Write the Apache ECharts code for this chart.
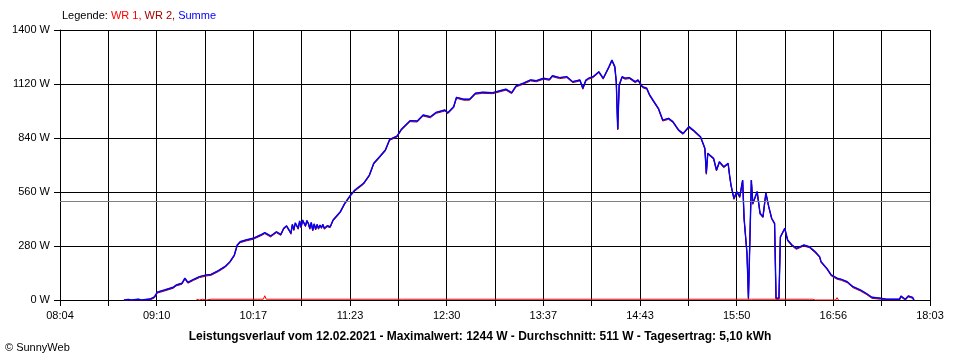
<!DOCTYPE html>
<html>
<head>
<meta charset="utf-8">
<script src="https://cdn.jsdelivr.net/npm/echarts@6/dist/echarts.min.js"></script>
<style>
html,body{margin:0;padding:0;background:#fff;}
#c{width:960px;height:360px;}
</style>
</head>
<body>
<div id="c"></div>
<script>
// ---- data ----
const timeLabels = ['08:04','09:10','10:17','11:23','12:30','13:37','14:43','15:50','16:56','18:03'];
const yTicks = [0, 280, 560, 840, 1120, 1400];
const averageW = 511;
const titleText = 'Leistungsverlauf vom 12.02.2021 - Maximalwert: 1244 W - Durchschnitt: 511 W - Tagesertrag: 5,10 kWh';

// Summe (W) – WR 2 delivers practically all of it
const sumData = [
  ['08:48',0],['08:51',3],['08:53',0],['08:58',4],['09:00',0],['09:06',5],['09:09',16],['09:11',41],
  ['09:16',52],['09:22',66],['09:24',78],['09:28',87],['09:30',113],['09:32',92],['09:36',107],
  ['09:40',121],['09:45',130],['09:48',133],['09:53',152],['09:58',176],['10:01',199],['10:04',233],
  ['10:06',285],['10:08',302],['10:12',311],['10:17',320],['10:22',337],['10:25',349],['10:29',332],
  ['10:33',354],['10:36',340],['10:38',372],['10:40',385],['10:41',389],['10:42',360],['10:43',346],
  ['10:44',392],['10:45',365],['10:46',400],['10:47',398],['10:48',372],['10:49',410],['10:50',378],
  ['10:51',415],['10:52',418],['10:53',385],['10:54',412],['10:55',398],['10:56',372],['10:57',402],
  ['10:58',363],['10:59',395],['11:00',368],['11:01',392],['11:02',372],['11:03',389],['11:04',376],
  ['11:05',392],['11:06',372],['11:08',385],['11:10',380],['11:12',415],['11:17',458],['11:20',501],
  ['11:24',544],['11:27',570],['11:33',605],['11:37',648],['11:40',709],['11:44',743],['11:48',778],
  ['11:51',833],['11:56',850],['11:59',885],['12:05',930],['12:10',928],['12:14',959],['12:19',950],
  ['12:23',973],['12:29',985],['12:31',971],['12:35',1002],['12:37',1051],['12:42',1041],['12:46',1041],
  ['12:50',1072],['12:55',1077],['13:02',1075],['13:07',1085],['13:11',1093],['13:15',1075],['13:18',1110],
  ['13:23',1124],['13:28',1141],['13:32',1137],['13:37',1150],['13:41',1144],['13:43',1163],['13:48',1153],
  ['13:53',1158],['13:57',1132],['14:02',1141],['14:04',1098],['14:06',1140],['14:08',1150],['14:11',1158],
  ['14:15',1184],['14:18',1150],['14:22',1210],['14:24',1244],['14:26',1210],['14:27',1132],['14:28',887],
  ['14:29',1115],['14:31',1158],['14:33',1150],['14:36',1153],['14:40',1132],['14:42',1141],['14:45',1106],
  ['14:48',1098],['14:50',1063],['14:53',1028],['14:56',994],['14:59',933],['15:03',942],['15:06',925],
  ['15:10',881],['15:13',864],['15:17',899],['15:20',881],['15:25',847],['15:27',807],['15:28',787],
  ['15:29',657],['15:30',761],['15:31',769],['15:34',735],['15:36',674],['15:38',717],['15:41',691],
  ['15:44',709],['15:45',648],['15:46',596],['15:48',527],['15:50',562],['15:52',536],['15:54',622],
  ['15:55',424],['15:57',242],['15:58',9],['15:59',9],['16:00',622],['16:01',501],['16:04',562],
  ['16:06',450],['16:08',432],['16:10',556],['16:12',484],['16:14',424],['16:16',398],['16:17',9],
  ['16:19',9],['16:20',328],['16:23',372],['16:25',311],['16:28',285],['16:31',268],['16:36',285],
  ['16:40',276],['16:44',250],['16:47',225],['16:48',199],['16:52',164],['16:55',130],['16:59',113],
  ['17:02',107],['17:06',95],['17:10',69],['17:15',52],['17:19',35],['17:23',14],['17:29',9],
  ['17:33',4],['17:39',4],['17:42',4],['17:43',21],['17:46',4],['17:48',21],['17:51',14],['17:52',0]
];

// WR 1 (W) – almost nothing
const wr1Data = [
  ['09:38',4],['09:40',0],['09:42',4],['09:45',0],['09:48',4],['10:24',4],['10:25',22],['10:26',4],
  ['12:00',4],['14:00',4],['16:00',4],['16:40',4],['16:41',0],['16:42',4],['16:44',0],['16:45',4],
  ['16:48',0],['16:58',0],['16:59',12],['17:00',0]
];

// ---- helpers ----
function tMin(t){const p=t.split(':').map(Number);return p[0]*60+p[1];}
const t0 = tMin(timeLabels[0]);
const step = (tMin(timeLabels[timeLabels.length-1]) - t0) / 18;
function toPts(arr){return arr.map(d=>[(tMin(d[0])-t0)/step, d[1]]);}

const chart = echarts.init(document.getElementById('c'), null, {renderer:'canvas'});
const font = 'Liberation Sans, Arial, sans-serif';

chart.setOption({
  animation:false,
  backgroundColor:'#ffffff',
  grid:{left:60,right:30,top:30,bottom:60,containLabel:false},
  xAxis:{
    type:'value',min:0,max:18,interval:1,
    axisLine:{show:true,lineStyle:{color:'#000',width:1}},
    axisTick:{show:true,length:6,lineStyle:{color:'#000'}},
    splitLine:{show:true,lineStyle:{color:'#000',width:1}},
    axisLabel:{
      margin:10,color:'#000',fontFamily:font,fontSize:11,
      formatter:function(v){const i=Math.round(v);return i%2===0?timeLabels[i/2]:'';},
      showMinLabel:true,showMaxLabel:true
    }
  },
  yAxis:{
    type:'value',min:yTicks[0],max:yTicks[yTicks.length-1],interval:yTicks[1]-yTicks[0],
    axisLine:{show:true,lineStyle:{color:'#000',width:1}},
    axisTick:{show:true,length:6,lineStyle:{color:'#000'}},
    splitLine:{show:true,lineStyle:{color:'#000',width:1}},
    axisLabel:{margin:10,color:'#000',fontFamily:font,fontSize:11,formatter:v=>v+' W'}
  },
  series:[
    {
      name:'WR 2',type:'line',symbol:'none',z:3,
      data:toPts(sumData),
      lineStyle:{color:'#a00000',width:1,shadowColor:'#a00000',shadowBlur:0,shadowOffsetY:1}
    },
    {
      name:'Summe',type:'line',symbol:'none',z:4,
      data:toPts(sumData),
      lineStyle:{color:'#0000ff',width:1.4},
      markLine:{
        silent:true,symbol:['none','none'],label:{show:false},
        lineStyle:{color:'#808080',width:1,type:'solid'},
        data:[{yAxis:averageW}]
      }
    },
    {
      name:'WR 1',type:'line',symbol:'none',z:5,
      data:toPts(wr1Data),
      lineStyle:{color:'#ff0000',width:1}
    }
  ],
  graphic:[
    {
      type:'text',left:62,top:10,
      style:{
        text:'{k|Legende: }{a|WR 1, }{b|WR 2, }{c|Summe}',
        rich:{
          k:{fill:'#000',fontFamily:font,fontSize:11},
          a:{fill:'#ff0000',fontFamily:font,fontSize:11},
          b:{fill:'#a00000',fontFamily:font,fontSize:11},
          c:{fill:'#0000ff',fontFamily:font,fontSize:11}
        }
      }
    },
    {
      type:'text',x:480,y:337,
      style:{text:titleText,fill:'#000',fontFamily:font,fontSize:12,fontWeight:'bold',align:'center',verticalAlign:'middle'}
    },
    {
      type:'text',x:5,y:348,
      style:{text:'© SunnyWeb',fill:'#000',fontFamily:font,fontSize:11,align:'left',verticalAlign:'middle'}
    }
  ]
});
</script>
</body>
</html>
